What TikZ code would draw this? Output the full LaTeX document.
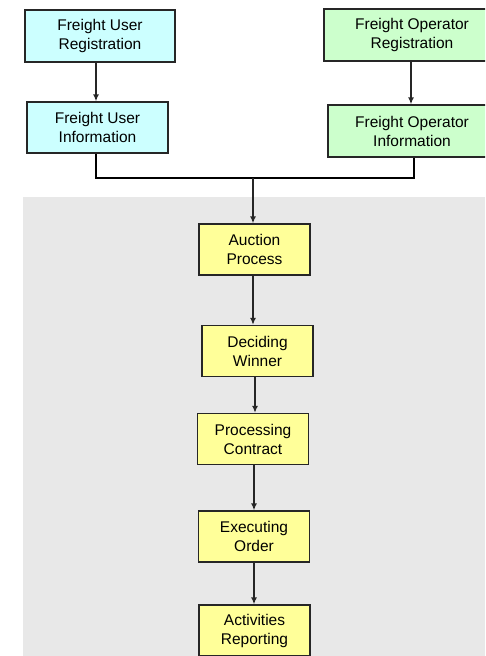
\documentclass[tikz,border=0pt]{standalone}
\usepackage{fontspec}
\setmainfont{Liberation Sans}
\usetikzlibrary{arrows.meta}

\definecolor{usercol}{HTML}{CCFFFF}
\definecolor{opcol}{HTML}{CCFFCC}
\definecolor{stepcol}{HTML}{FFFF99}
\definecolor{areacol}{HTML}{E8E8E8}

\begin{document}
\begin{tikzpicture}[x=1pt, y=-1pt, line width=1.6pt, font=\fontsize{15.5}{19}\selectfont,
	box/.style = {draw=black!85, line width=1.3pt, align=center, inner sep=0pt},
	user/.style = {box, fill=usercol},
	oper/.style = {box, fill=opcol},
	stage/.style = {box, fill=stepcol, minimum width=111pt, minimum height=51pt},
	arr/.style = {-{Latex[length=7pt,width=6pt]}, black!85}]
				\useasboundingbox (0,0) rectangle (485,656);
				\fill[areacol] (23,197) rectangle (485,656);
				\begin{scope}
				\clip (0,0) rectangle (485,656);
				\node[user, minimum width=150pt, minimum height=52pt] (fur) at (100,36) {Freight User\\Registration};
				\node[user, minimum width=141pt, minimum height=51pt] (fui) at (97.5,127.5) {Freight User\\Information};
				\node[oper, minimum width=176pt, minimum height=52pt] (for) at (412,35) {Freight Operator\\Registration};
				\node[oper, minimum width=168pt, minimum height=52pt] (foi) at (412,131) {Freight Operator\\Information};
				\end{scope}
				\node[stage] (auction) at (254.5,249.5) {Auction\\Process};
				\node[stage] (winner) at (257.5,351) {Deciding\\Winner};
				\node[stage] (contract) at (253,439) {Processing\\Contract};
				\node[stage] (order) at (254,536.5) {Executing\\Order};
				\node[stage] (report) at (254.5,630.5) {Activities\\Reporting};
				\coordinate (join) at (253,178);
				\draw[arr] (fur.south -| 96,0) -- (fui.north -| 96,0);
				\draw[arr] (for.south -| 411,0) -- (foi.north -| 411,0);
				\draw (fui.south -| 96,0) |- (join) -| (foi.south -| 414,0);
				\draw[arr] (join) -- (auction.north -| join);
				\draw[arr] (auction.south -| 253,0) -- (winner.north -| 253,0);
				\draw[arr] (winner.south -| 255,0) -- (contract.north -| 255,0);
				\draw[arr] (contract.south -| 254,0) -- (order.north -| 254,0);
				\draw[arr] (order.south -| 254,0) -- (report.north -| 254,0);
			\end{tikzpicture}
\end{document}
